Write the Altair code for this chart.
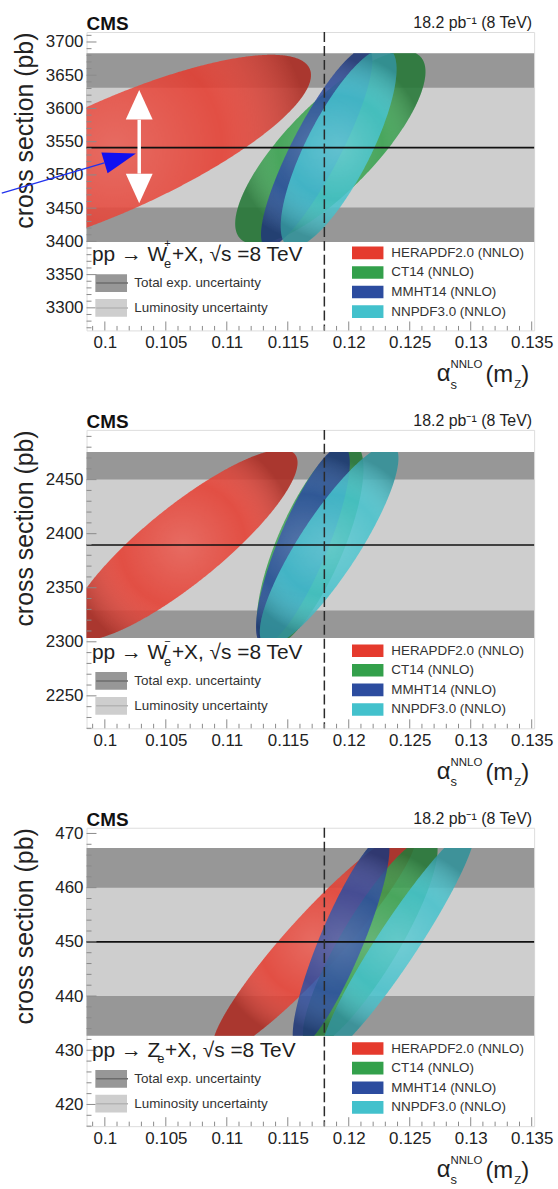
import altair as alt
import numpy as np
import pandas as pd

FONT = "Liberation Sans"
PLOT_W, PLOT_H = 450, 300

# alpha_s axis shared by the three panels
ALPHA_DOMAIN = [0.0985, 0.1352]
ALPHA_TICKS = [0.1, 0.105, 0.11, 0.115, 0.12, 0.125, 0.13, 0.135]
ALPHA_MINOR_STEP = 0.001
ALPHA_REF = 0.118

PDF_NAMES = ["HERAPDF2.0 (NNLO)", "CT14 (NNLO)", "MMHT14 (NNLO)", "NNPDF3.0 (NNLO)"]
PDF_COLORS = ["#e53a2d", "#33a04b", "#2c4c9f", "#43c1cc"]
BAND_NAMES = ["Total exp. uncertainty", "Luminosity uncertainty"]
BAND_COLORS = ["#979797", "#cecece"]
# keys of the thin centre lines drawn through the band swatches
BAND_LINE_KEYS = ["total line", "lumi line"]
BAND_LINE_COLORS = ["#6c6c6c", "#b4b4b4"]

# --- W+ -> e nu : measurement and PDF ellipses (centre, slope d(alpha)/d(sigma),
#     half-width in alpha at the centre, half-height in sigma)
WP_MEAS, WP_LUMI, WP_TOTAL = 3541, 90, 142
WP_YDOMAIN = [3266, 3715]
WP_YTICKS = [3300, 3350, 3400, 3450, 3500, 3550, 3600, 3650, 3700]
WP_YMINOR = 10
WP_ALPHA = [0.10080, 0.11849, 0.11737, 0.11917]
WP_XSEC = [3528.6, 3541, 3541, 3541]
WP_SLOPE = [8.45e-5, 4.24e-5, 2.65e-5, 2.49e-5]
WP_HALFW = [0.00970, 0.00480, 0.00224, 0.00293]
WP_HALFH = [152.1, 145, 150, 150]

# --- W- -> e nu
WM_MEAS, WM_LUMI, WM_TOTAL = 2389.5, 60.5, 86
WM_YDOMAIN = [2220, 2496]
WM_YTICKS = [2250, 2300, 2350, 2400, 2450]
WM_YMINOR = 10
WM_ALPHA = [0.10640, 0.11683, 0.11624, 0.11839]
WM_XSEC = [2389.5, 2389.5, 2389.5, 2389.5]
WM_SLOPE = [9.18e-5, 3.42e-5, 3.44e-5, 5.28e-5]
WM_HALFW = [0.00476, 0.00293, 0.00218, 0.00286]
WM_HALFH = [88.3, 95, 92, 93]

# --- Z -> ee
Z_MEAS, Z_LUMI, Z_TOTAL = 450, 10, 17.3
Z_YDOMAIN = [416, 471.05]
Z_YTICKS = [420, 430, 440, 450, 460, 470]
Z_YMINOR = 2
Z_ALPHA = [0.11717, 0.12176, 0.11937, 0.12405]
Z_XSEC = [450, 450, 450, 450]
Z_SLOPE = [3.79e-4, 2.46e-4, 1.78e-4, 2.83e-4]
Z_HALFW = [0.00299, 0.00273, 0.00191, 0.00199]
Z_HALFH = [20.6, 19.5, 19.5, 21]

# arrows drawn over the W+ panel
WHITE_ARROW_ALPHA = 0.10282
WHITE_ARROW_SHAFT = [3502, 3583]
WHITE_ARROW_HEADS = [3605.5, 3479.5]
BLUE_LINE = dict(a0=0.09155, s0=3472.5, a1=0.09996, s1=3518.2)
BLUE_HEAD = dict(alpha=0.10126, xsec=3525.3)

SHADE = alt.RadialGradient(
    gradient="radial",
    stops=[alt.GradientStop(offset=0, color="rgba(255,255,255,0.16)"),
           alt.GradientStop(offset=0.55, color="rgba(255,255,255,0.0)"),
           alt.GradientStop(offset=1, color="rgba(0,0,0,0.22)")],
)


def ellipse_outline(name, a0, s0, slope, halfw, halfh, lo, hi):
    """Left/right alpha edges of a tilted ellipse, cut to the band [lo, hi]."""
    th = np.linspace(-np.pi / 2, np.pi / 2, 401)
    s = np.concatenate([s0 + halfh * np.sin(th), [lo, hi]])
    s = np.unique(s[(s >= max(lo, s0 - halfh)) & (s <= min(hi, s0 + halfh))])
    t = np.clip((s - s0) / halfh, -1, 1)
    mid = a0 + slope * (s - s0)
    hw = halfw * np.sqrt(1 - t ** 2)
    return pd.DataFrame({"pdf": name, "xsec": s, "a_lo": mid - hw, "a_hi": mid + hw})


def text(s, x, y, size, weight="normal", align="left", color="#1e1e1e"):
    return alt.Chart(pd.DataFrame({"t": [s]})).mark_text(
        font=FONT, fontSize=size, fontWeight=weight, align=align,
        baseline="alphabetic", color=color,
    ).encode(text="t:N", x=alt.value(x), y=alt.value(y))


def panel(meas, lumi, total, ydomain, yticks, yminor, alphas, xsecs, slopes,
          halfws, halfhs, boson, charge, arrows=False):
    xs = alt.Scale(domain=ALPHA_DOMAIN, nice=False, zero=False)
    ys = alt.Scale(domain=ydomain, nice=False, zero=False)
    lo, hi = meas - total, meas + total

    x_axis = alt.Axis(values=ALPHA_TICKS, format=".3~f", title=None, ticks=False,
                      tickSize=0, domain=False, grid=False, labelPadding=4.5,
                      labelFontSize=17, labelFont=FONT, labelColor="#222",
                      labelFlush=False, labelOverlap=False)
    y_axis = alt.Axis(values=yticks, format="d", title="cross section (pb)",
                      titleX=-54, titleY=0, titleAngle=270, titleAlign="right",
                      titleBaseline="alphabetic", titleFontSize=25,
                      titleFontWeight="normal", titleFont=FONT, titleColor="#222",
                      ticks=False, tickSize=0, domain=False, grid=False,
                      labelPadding=3.6, labelFontSize=17, labelFont=FONT,
                      labelColor="#222", labelFlush=False, labelOverlap=False)

    def X(field):
        return alt.X(field, type="quantitative", scale=xs, axis=x_axis)

    def Y(field):
        return alt.Y(field, type="quantitative", scale=ys, axis=y_axis)

    band_legend = dict(title=None, orient="none", legendX=8.7, legendY=242.4,
                       direction="vertical", symbolSize=1024, clipHeight=20,
                       rowPadding=5, labelOffset=7.3, labelFontSize=13.5,
                       labelFont=FONT, labelColor="#333", padding=0, labelLimit=400)

    bands = pd.DataFrame({
        "band": BAND_NAMES,
        "lo": [meas - total, meas - lumi],
        "hi": [meas + total, meas + lumi],
        "a0": [ALPHA_DOMAIN[0]] * 2,
        "a1": [ALPHA_DOMAIN[1]] * 2,
    })
    band_layer = alt.Chart(bands).mark_rect().encode(
        x=X("a0"), x2="a1", y=Y("lo"), y2="hi",
        fill=alt.Fill("band:N", scale=alt.Scale(domain=BAND_NAMES, range=BAND_COLORS),
                      legend=alt.Legend(symbolType="M-1,-0.56H1V0.56H-1Z",
                                        symbolStrokeWidth=0, **band_legend)),
    )
    # thin centre line drawn through each band swatch of the legend
    band_line_layer = alt.Chart(pd.DataFrame({
        "band_line": pd.Series([], dtype=str), "xsec": pd.Series([], dtype=float)
    })).mark_rule().encode(
        y=Y("xsec"),
        stroke=alt.Stroke("band_line:N",
                          scale=alt.Scale(domain=BAND_LINE_KEYS, range=BAND_LINE_COLORS),
                          legend=alt.Legend(symbolType="M-1,0H1", symbolStrokeWidth=1.5,
                                            labelExpr="''", zindex=2, **band_legend)),
    )

    color_enc = alt.Color("pdf:N", scale=alt.Scale(domain=PDF_NAMES, range=PDF_COLORS),
                          legend=alt.Legend(
                              title=None, orient="none", legendX=266.7, legendY=214.5,
                              direction="vertical", symbolType="M-1,-0.4H1V0.4H-1Z",
                              symbolSize=1000, symbolStrokeWidth=0, clipHeight=15,
                              rowPadding=4.7, labelOffset=7.7, labelFontSize=13.5,
                              labelFont=FONT, labelColor="#333", padding=0,
                              labelLimit=400, symbolOpacity=1))

    layers = [band_layer, band_line_layer]
    for name, a0, s0, m, w, h in zip(PDF_NAMES, alphas, xsecs, slopes, halfws, halfhs):
        df = ellipse_outline(name, a0, s0, m, w, h, lo, hi)
        layers.append(alt.Chart(df).mark_area(orient="horizontal", clip=True,
                                              fillOpacity=0.86).encode(
            y=Y("xsec"), x=X("a_lo"), x2="a_hi", color=color_enc))
        # soft light-to-dark shading across each ellipse
        layers.append(alt.Chart(df).mark_area(orient="horizontal", clip=True,
                                              color=SHADE).encode(
            y=Y("xsec"), x=X("a_lo"), x2="a_hi"))

    # measured value and the reference alpha_s
    layers.append(alt.Chart(pd.DataFrame({"xsec": [meas]})).mark_rule(
        color="#111", strokeWidth=1.6).encode(y=Y("xsec")))
    layers.append(alt.Chart(pd.DataFrame({"alpha": [ALPHA_REF]})).mark_rule(
        color="#2a2a2a", strokeWidth=1.5, strokeDash=[10, 4]).encode(x=X("alpha")))

    # inward ticks on the bottom and left frame
    minor_x = [round(v, 3) for v in np.arange(0.099, ALPHA_DOMAIN[1], ALPHA_MINOR_STEP)
               if not any(abs(v - t) < 1e-9 for t in ALPHA_TICKS)]
    y_start = np.ceil(ydomain[0] / yminor) * yminor
    minor_y = [float(v) for v in np.arange(y_start, ydomain[1], yminor)
               if not any(abs(v - t) < 1e-9 for t in yticks)]
    for vals, ln in ((ALPHA_TICKS, 9), (minor_x, 4.5)):
        layers.append(alt.Chart(pd.DataFrame({"alpha": vals})).mark_rule(
            color="#8a8a8a", strokeWidth=1).encode(
            x=X("alpha"), y=alt.value(PLOT_H), y2=alt.value(PLOT_H - ln)))
    for vals, ln in ((yticks, 10), (minor_y, 5)):
        layers.append(alt.Chart(pd.DataFrame({"xsec": vals})).mark_rule(
            color="#8a8a8a", strokeWidth=1).encode(
            y=Y("xsec"), x=alt.value(0), x2=alt.value(ln)))

    # header
    layers.append(text("CMS", 0, -2, 19, weight="bold", color="#111"))
    layers.append(text("18.2 pb\u207b\u00b9 (8 TeV)", PLOT_W - 2, -4, 16, align="right"))

    # process label, with the lepton flavour below and the charge above
    main_w = {"W": 72.6, "Z": 65.7}[boson]
    layers.append(text("pp \u2192 " + boson, 5.4, 230, 21))
    if charge:
        layers.append(text(charge, 5.6 + main_w, 216.5, 11))
    layers.append(text("e", 5.4 + main_w, 237.0, 13))
    layers.append(text("+X,  \u221as =8 TeV", 5.4 + main_w + 7.8, 230, 21))

    # alpha_s^NNLO(m_Z) axis title
    layers.append(text("\u03b1", 352.0, 351.0, 24))
    layers.append(text("s", 366.0, 358.5, 13))
    layers.append(text("NNLO", 366.0, 338.0, 11.5))
    layers.append(text("(m", 401.0, 352.0, 24))
    layers.append(text("Z", 430.0, 358.0, 11.5))
    layers.append(text(")", 437.0, 352.0, 24))

    if arrows:
        shaft = pd.DataFrame({"alpha": [WHITE_ARROW_ALPHA], "s0": [WHITE_ARROW_SHAFT[0]],
                              "s1": [WHITE_ARROW_SHAFT[1]]})
        layers.append(alt.Chart(shaft).mark_rule(color="white", strokeWidth=3.5).encode(
            x=X("alpha"), y=Y("s0"), y2="s1"))
        for s, path in zip(WHITE_ARROW_HEADS, ["M0,-1.1L1,1.1L-1,1.1Z", "M0,1.1L1,-1.1L-1,-1.1Z"]):
            layers.append(alt.Chart(pd.DataFrame({"alpha": [WHITE_ARROW_ALPHA], "xsec": [s]}))
                          .mark_point(shape=path, filled=True, color="white", size=729,
                                      opacity=1, strokeWidth=0)
                          .encode(x=X("alpha"), y=Y("xsec")))
        line = pd.DataFrame({k: [v] for k, v in BLUE_LINE.items()})
        layers.append(alt.Chart(line).mark_rule(color="#2233ee", strokeWidth=1.4).encode(
            x=X("a0"), x2="a1", y=Y("s0"), y2="s1"))
        layers.append(alt.Chart(pd.DataFrame({"alpha": [BLUE_HEAD["alpha"]],
                                              "xsec": [BLUE_HEAD["xsec"]]}))
                      .mark_point(shape="M1,0L-1,-0.66L-1,0.66Z", angle=343.3, filled=True,
                                  color="#1010f0", size=1089, opacity=1, strokeWidth=0)
                      .encode(x=X("alpha"), y=Y("xsec")))

    return alt.layer(*layers).properties(width=PLOT_W, height=PLOT_H)


p1 = panel(WP_MEAS, WP_LUMI, WP_TOTAL, WP_YDOMAIN, WP_YTICKS, WP_YMINOR,
           WP_ALPHA, WP_XSEC, WP_SLOPE, WP_HALFW, WP_HALFH, "W", "+", arrows=True)
p2 = panel(WM_MEAS, WM_LUMI, WM_TOTAL, WM_YDOMAIN, WM_YTICKS, WM_YMINOR,
           WM_ALPHA, WM_XSEC, WM_SLOPE, WM_HALFW, WM_HALFH, "W", "\u2212")
p3 = panel(Z_MEAS, Z_LUMI, Z_TOTAL, Z_YDOMAIN, Z_YTICKS, Z_YMINOR,
           Z_ALPHA, Z_XSEC, Z_SLOPE, Z_HALFW, Z_HALFH, "Z", None)

chart = alt.vconcat(p1, p2, p3, spacing=100, bounds="flush",
                    padding={"left": 0, "top": 11, "right": 4, "bottom": 0}).resolve_scale(
    x="independent", y="independent", color="independent", fill="independent",
    stroke="independent"
).resolve_legend(color="independent", fill="independent", stroke="independent"
).configure_view(
    stroke="#a0a0a0", strokeWidth=1
).configure(background="white")

chart.save("out.html", embed_options={"renderer": "svg", "actions": False})
